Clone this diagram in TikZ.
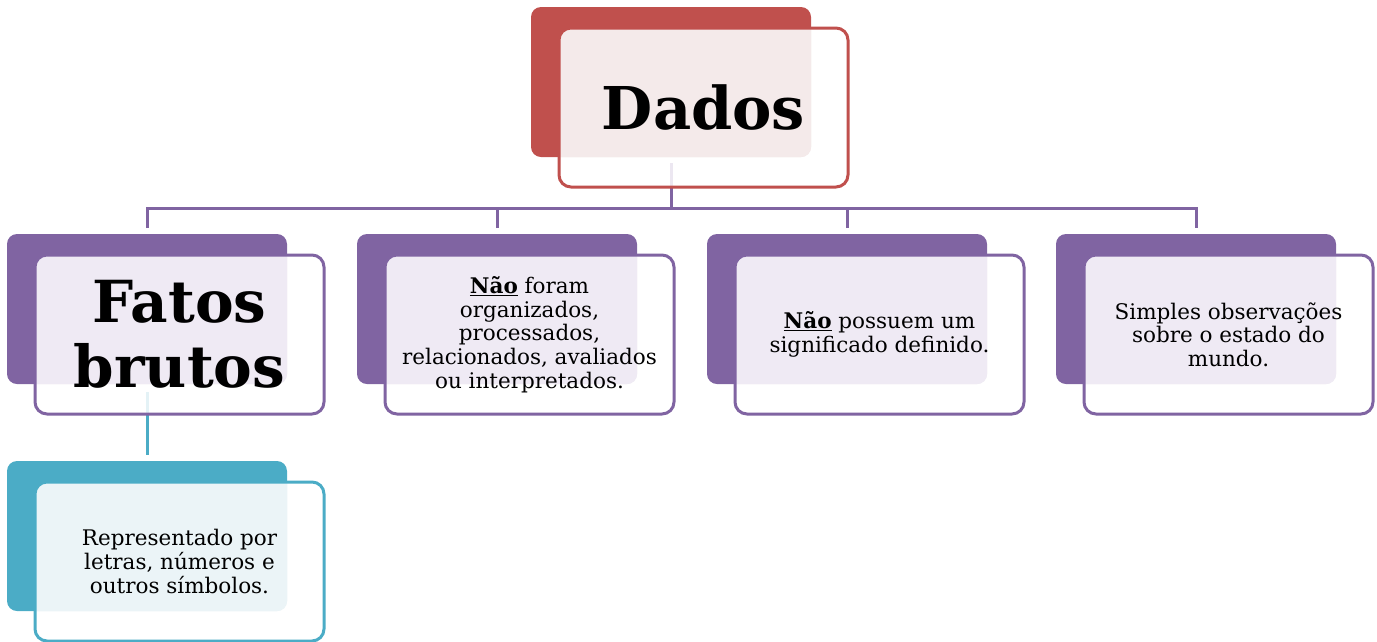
\documentclass[tikz,border=0pt]{standalone}
\usepackage{fontspec}
\setmainfont{DejaVu Serif}
\usetikzlibrary{backgrounds}
\definecolor{purp}{HTML}{8064A2}
\definecolor{purptint}{HTML}{EFEAF4}
\definecolor{redc}{HTML}{C0504D}
\definecolor{redtint}{HTML}{F4EAEA}
\definecolor{teal}{HTML}{4BACC6}
\definecolor{tealtint}{HTML}{EBF4F7}
\tikzset{
  conn/.style={line width=3pt},
  backbox/.style={rounded corners=10pt, minimum width=280pt, minimum height=150pt, anchor=north west, inner sep=0pt, outer sep=0pt},
  frontbox/.style={rounded corners=12pt, line width=3pt, minimum width=289pt, minimum height=159pt, anchor=north west, inner sep=0pt, outer sep=0pt},
  bodytxt/.style={align=center, font=\fontsize{21.5}{23.7}\selectfont},
}
% #1 name, #2 colour, #3 tint, #4 back x, #5 back y
\newcommand\mysmartbox[5]{%
  \node[backbox, fill=#2] (#1b) at (#4,#5) {};
  \node[frontbox, fill=white, fill opacity=0.85] (#1) at (#4+28,#5+21) {};
  \begin{scope}
    \clip[rounded corners=12pt] (#1.north west) rectangle (#1.south east);
    \fill[#3, rounded corners=10pt] (#1b.north west) rectangle (#1b.south east);
  \end{scope}
  \node[frontbox, draw=#2] at (#4+28,#5+21) {};
}
\begin{document}
\begin{tikzpicture}[x=1pt,y=-1pt]
\useasboundingbox (0,0) rectangle (1377,641);
\mysmartbox{dados}{redc}{redtint}{531}{7}
\mysmartbox{fatos}{purp}{purptint}{7}{234}
\mysmartbox{nao}{purp}{purptint}{357}{234}
\mysmartbox{sig}{purp}{purptint}{707}{234}
\mysmartbox{simp}{purp}{purptint}{1056}{234}
\mysmartbox{repr}{teal}{tealtint}{7}{461}
\coordinate (bar) at (671,208);
\begin{pgfonlayer}{background}
\draw[conn, purp] ([yshift=-6pt]dadosb.south) -- (bar);
\draw[conn, purp] ([yshift=6pt]fatosb.north) -- (fatosb.north |- bar) -- (simpb.north |- bar) -- ([yshift=6pt]simpb.north);
\draw[conn, purp] ([yshift=6pt]naob.north) -- (naob.north |- bar);
\draw[conn, purp] ([yshift=6pt]sigb.north) -- (sigb.north |- bar);
\draw[conn, teal] ([yshift=-8pt]fatosb.south) -- ([yshift=6pt]reprb.north);
\end{pgfonlayer}
\node[font=\fontsize{59}{64}\selectfont\bfseries] (tdados) at (dados.center) {Dados};
\node[align=center, font=\fontsize{58}{65}\selectfont\bfseries] (tfatos) at (fatos.center) {Fatos\\brutos};
\node[bodytxt] (tnao) at (nao.center) {\underline{\textbf{Não}} foram\\organizados,\\processados,\\relacionados, avaliados\\ou interpretados.};
\node[bodytxt] (tsig) at (sig.center) {\underline{\textbf{Não}} possuem um\\significado definido.};
\node[bodytxt] (tsimp) at (simp.center) {Simples observações\\sobre o estado do\\mundo.};
\node[bodytxt] (trepr) at (repr.center) {Representado por\\letras, números e\\outros símbolos.};
\end{tikzpicture}
\end{document}
